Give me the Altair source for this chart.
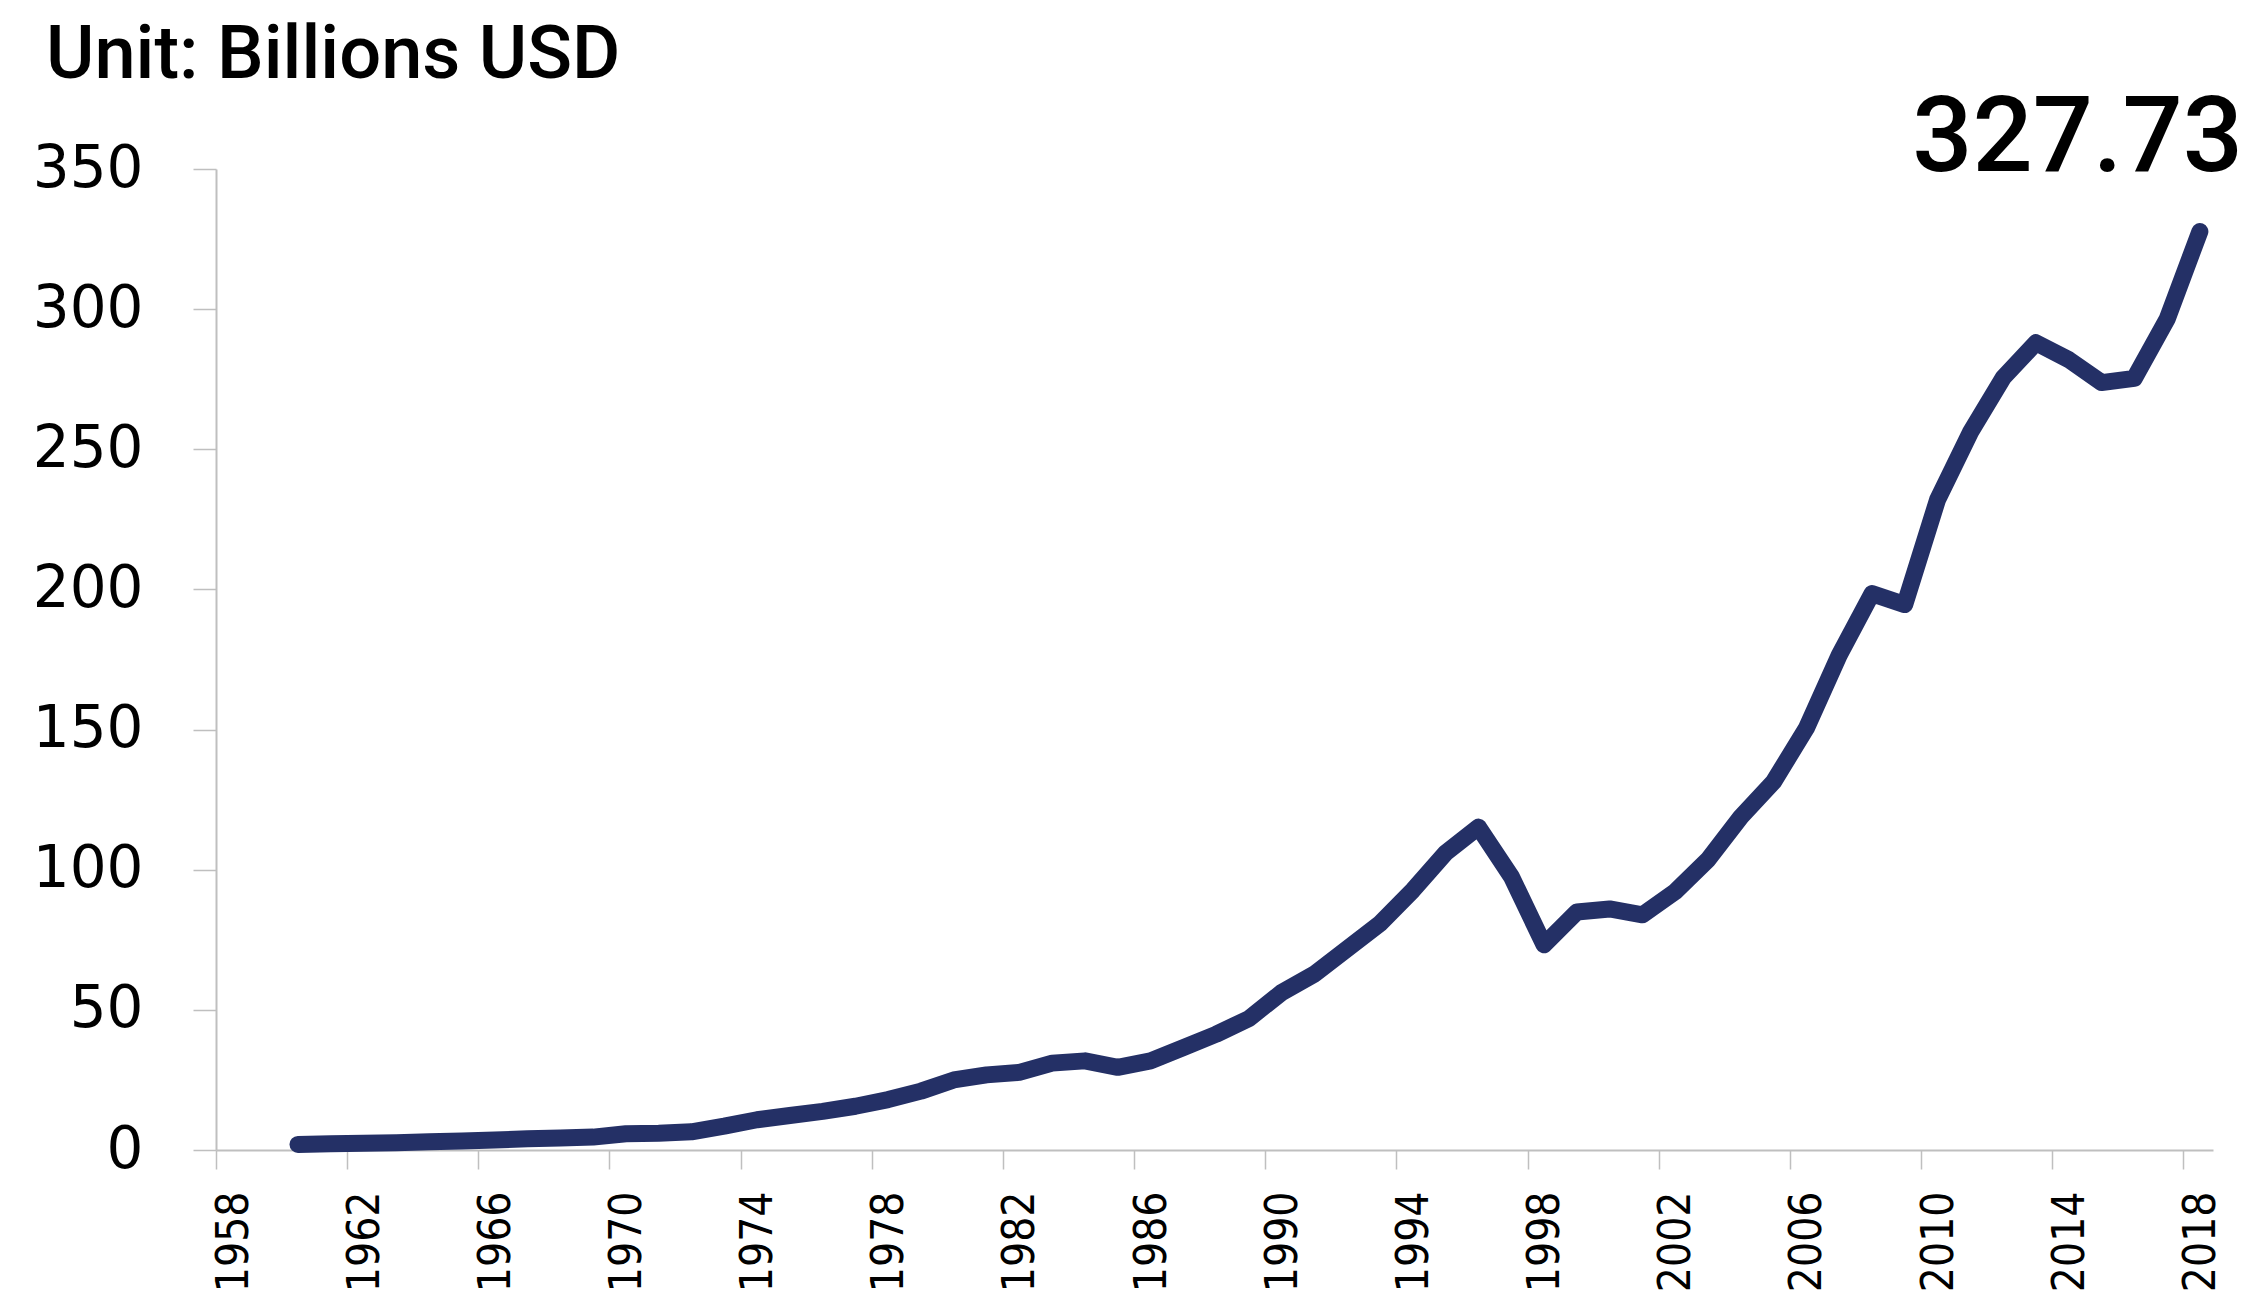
import altair as alt
import pandas as pd

years = list(range(1960, 2019))
values = [
    2.0, 2.2, 2.4, 2.6, 2.9, 3.2, 3.6, 4.0, 4.3, 4.6,
    5.8, 6.0, 6.5, 8.5, 10.8, 12.3, 13.8, 15.6, 18.0, 21.0,
    25.0, 26.8, 27.7, 31.0, 31.8, 29.5, 31.8, 36.5, 41.3, 46.9,
    56.2, 62.8, 71.8, 80.8, 92.7, 106.0, 115.2, 97.6, 73.2, 84.9,
    86.0, 83.9, 92.2, 103.6, 118.8, 131.4, 150.5, 176.5, 198.5, 194.6,
    232.0, 256.0, 275.5, 288.0, 282.0, 273.8, 275.3, 296.4, 327.73,
]
x_ticks = list(range(1958, 2019, 4))
y_ticks = [0, 50, 100, 150, 200, 250, 300, 350]
title_text = ["Unit: Billions USD"]
line_color = "#243066"

df = pd.DataFrame({"year": years, "value": values})

base = alt.Chart(df).transform_calculate(pos="datum.year + 0.5")

x_enc = alt.X(
    "pos:Q",
    scale=alt.Scale(domain=[1958, 2018.9], nice=False, zero=False),
    axis=alt.Axis(
        values=x_ticks,
        format="d",
        labelAngle=-90,
        labelAlign="right",
        labelBaseline="middle",
        labelOffset=18,
        labelFont="DejaVu Sans Condensed, DejaVu Sans",
        labelFontSize=44,
        labelColor="black",
        labelPadding=22,
        tickSize=19,
        tickColor="#bfbfbf",
        tickWidth=1.5,
        domainColor="#bfbfbf",
        domainWidth=2,
        grid=False,
        title=None,
        labelOverlap=False,
        labelFlush=False,
    ),
)
y_enc = alt.Y(
    "value:Q",
    scale=alt.Scale(domain=[0, 350], nice=False),
    axis=alt.Axis(
        values=y_ticks,
        labelFont="DejaVu Sans",
        labelFontSize=58,
        labelColor="black",
        labelPadding=50,
        tickSize=23,
        tickColor="#bfbfbf",
        tickWidth=1.5,
        domainColor="#bfbfbf",
        domainWidth=2,
        grid=False,
        title=None,
        labelOverlap=False,
        labelFlush=False,
    ),
)

line = base.mark_line(
    color=line_color, strokeWidth=17, strokeCap="round", strokeJoin="round"
).encode(x=x_enc, y=y_enc)

label = base.transform_filter("datum.year == 2018").mark_text(
    font="Roboto",
    fontSize=106,
    fontWeight=500,
    color="black",
    align="right",
    baseline="alphabetic",
    dx=43,
    dy=-60,
).encode(x=alt.X("pos:Q"), y=alt.Y("value:Q"), text=alt.Text("value:Q", format=".2f"))

title = (
    alt.Chart(pd.DataFrame({"t": title_text}))
    .mark_text(
        font="Roboto",
        fontSize=74,
        fontWeight=500,
        color="black",
        align="left",
        baseline="alphabetic",
    )
    .encode(text="t:N", x=alt.value(-170), y=alt.value(-91))
)

chart = (
    alt.layer(line, label, title)
    .properties(
        width=1997,
        height=981,
        padding={"left": 208, "top": 161, "right": 30, "bottom": 142},
        autosize=alt.AutoSizeParams(type="none"),
        background="white",
    )
    .configure_view(stroke=None, strokeWidth=0)
)

chart.save("out.html", embed_options={"renderer": "svg", "actions": False})
